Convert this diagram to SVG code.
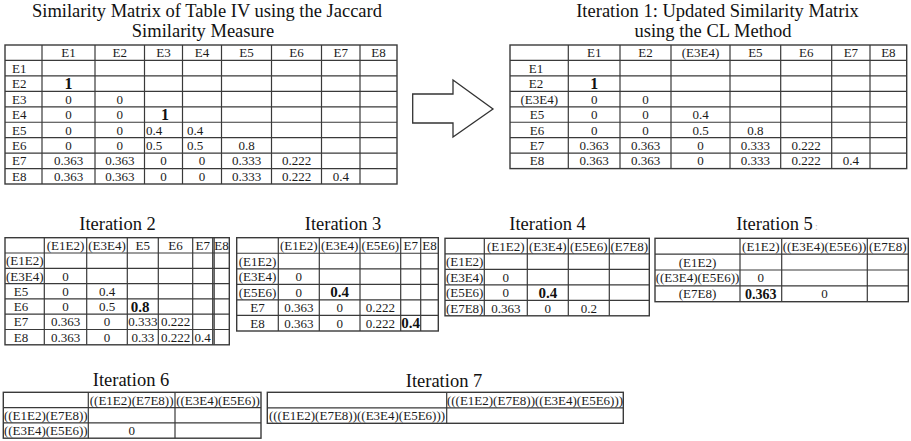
<svg xmlns="http://www.w3.org/2000/svg" width="911" height="441" viewBox="0 0 911 441">
  <rect width="911" height="441" fill="#fff"/>

  <!-- Jaccard similarity matrix -->
  <g id="matrix-jaccard">
    <text x="207" y="17" font-family="Liberation Serif" font-size="18.5" text-anchor="middle" fill="#111">Similarity Matrix of Table IV using the Jaccard</text>
    <text x="203" y="36.5" font-family="Liberation Serif" font-size="18.5" text-anchor="middle" fill="#111">Similarity Measure</text>
    <rect x="5" y="45" width="392" height="139" fill="none" stroke="#3a3a3a" stroke-width="1.4"/>
    <path fill="none" stroke="#3a3a3a" stroke-width="1.2" d="M42 45V184M95 45V184M144.5 45V184M182.5 45V184M221.5 45V184M271.5 45V184M321.5 45V184M360 45V184M5 60.45H397M5 75.9H397M5 91.35H397M5 106.8H397M5 122.25H397M5 137.7H397M5 153.15H397M5 168.6H397"/>
    <text x="68.5" y="57.2" font-family="Liberation Serif" font-size="13" text-anchor="middle" fill="#1a1a1a">E1</text>
    <text x="119.75" y="57.2" font-family="Liberation Serif" font-size="13" text-anchor="middle" fill="#1a1a1a">E2</text>
    <text x="163.5" y="57.2" font-family="Liberation Serif" font-size="13" text-anchor="middle" fill="#1a1a1a">E3</text>
    <text x="202" y="57.2" font-family="Liberation Serif" font-size="13" text-anchor="middle" fill="#1a1a1a">E4</text>
    <text x="246.5" y="57.2" font-family="Liberation Serif" font-size="13" text-anchor="middle" fill="#1a1a1a">E5</text>
    <text x="296.5" y="57.2" font-family="Liberation Serif" font-size="13" text-anchor="middle" fill="#1a1a1a">E6</text>
    <text x="340.75" y="57.2" font-family="Liberation Serif" font-size="13" text-anchor="middle" fill="#1a1a1a">E7</text>
    <text x="378.5" y="57.2" font-family="Liberation Serif" font-size="13" text-anchor="middle" fill="#1a1a1a">E8</text>
    <text x="12" y="72.7" font-family="Liberation Serif" font-size="13" fill="#1a1a1a">E1</text>
    <text x="12" y="88.1" font-family="Liberation Serif" font-size="13" fill="#1a1a1a">E2</text>
    <text x="12" y="103.6" font-family="Liberation Serif" font-size="13" fill="#1a1a1a">E3</text>
    <text x="12" y="119" font-family="Liberation Serif" font-size="13" fill="#1a1a1a">E4</text>
    <text x="12" y="134.5" font-family="Liberation Serif" font-size="13" fill="#1a1a1a">E5</text>
    <text x="12" y="149.9" font-family="Liberation Serif" font-size="13" fill="#1a1a1a">E6</text>
    <text x="12" y="165.4" font-family="Liberation Serif" font-size="13" fill="#1a1a1a">E7</text>
    <text x="12" y="180.8" font-family="Liberation Serif" font-size="13" fill="#1a1a1a">E8</text>
    <text x="68.5" y="88.8" font-family="Liberation Serif" font-size="16" font-weight="bold" text-anchor="middle" fill="#111">1</text>
    <text x="68.5" y="103.6" font-family="Liberation Serif" font-size="13" text-anchor="middle" fill="#1a1a1a">0</text>
    <text x="119.75" y="103.6" font-family="Liberation Serif" font-size="13" text-anchor="middle" fill="#1a1a1a">0</text>
    <text x="68.5" y="119" font-family="Liberation Serif" font-size="13" text-anchor="middle" fill="#1a1a1a">0</text>
    <text x="119.75" y="119" font-family="Liberation Serif" font-size="13" text-anchor="middle" fill="#1a1a1a">0</text>
    <text x="165" y="119.7" font-family="Liberation Serif" font-size="16" font-weight="bold" text-anchor="middle" fill="#111">1</text>
    <text x="68.5" y="134.5" font-family="Liberation Serif" font-size="13" text-anchor="middle" fill="#1a1a1a">0</text>
    <text x="119.75" y="134.5" font-family="Liberation Serif" font-size="13" text-anchor="middle" fill="#1a1a1a">0</text>
    <text x="154" y="134.5" font-family="Liberation Serif" font-size="13" text-anchor="middle" fill="#1a1a1a">0.4</text>
    <text x="195" y="134.5" font-family="Liberation Serif" font-size="13" text-anchor="middle" fill="#1a1a1a">0.4</text>
    <text x="68.5" y="149.9" font-family="Liberation Serif" font-size="13" text-anchor="middle" fill="#1a1a1a">0</text>
    <text x="119.75" y="149.9" font-family="Liberation Serif" font-size="13" text-anchor="middle" fill="#1a1a1a">0</text>
    <text x="154" y="149.9" font-family="Liberation Serif" font-size="13" text-anchor="middle" fill="#1a1a1a">0.5</text>
    <text x="195" y="149.9" font-family="Liberation Serif" font-size="13" text-anchor="middle" fill="#1a1a1a">0.5</text>
    <text x="246.5" y="149.9" font-family="Liberation Serif" font-size="13" text-anchor="middle" fill="#1a1a1a">0.8</text>
    <text x="68.5" y="165.4" font-family="Liberation Serif" font-size="13" text-anchor="middle" fill="#1a1a1a">0.363</text>
    <text x="119.75" y="165.4" font-family="Liberation Serif" font-size="13" text-anchor="middle" fill="#1a1a1a">0.363</text>
    <text x="163.5" y="165.4" font-family="Liberation Serif" font-size="13" text-anchor="middle" fill="#1a1a1a">0</text>
    <text x="202" y="165.4" font-family="Liberation Serif" font-size="13" text-anchor="middle" fill="#1a1a1a">0</text>
    <text x="246.5" y="165.4" font-family="Liberation Serif" font-size="13" text-anchor="middle" fill="#1a1a1a">0.333</text>
    <text x="296.5" y="165.4" font-family="Liberation Serif" font-size="13" text-anchor="middle" fill="#1a1a1a">0.222</text>
    <text x="68.5" y="180.8" font-family="Liberation Serif" font-size="13" text-anchor="middle" fill="#1a1a1a">0.363</text>
    <text x="119.75" y="180.8" font-family="Liberation Serif" font-size="13" text-anchor="middle" fill="#1a1a1a">0.363</text>
    <text x="163.5" y="180.8" font-family="Liberation Serif" font-size="13" text-anchor="middle" fill="#1a1a1a">0</text>
    <text x="202" y="180.8" font-family="Liberation Serif" font-size="13" text-anchor="middle" fill="#1a1a1a">0</text>
    <text x="246.5" y="180.8" font-family="Liberation Serif" font-size="13" text-anchor="middle" fill="#1a1a1a">0.333</text>
    <text x="296.5" y="180.8" font-family="Liberation Serif" font-size="13" text-anchor="middle" fill="#1a1a1a">0.222</text>
    <text x="340.75" y="180.8" font-family="Liberation Serif" font-size="13" text-anchor="middle" fill="#1a1a1a">0.4</text>
  </g>

  <!-- block arrow between the two top matrices -->
  <g id="connectors">
    <polygon points="412.7,94 453,94 453,80 493,109 453,137 453,123 412.7,123" fill="#fff" stroke="#333" stroke-width="1.3"/>
  </g>

  <!-- Iteration 1 -->
  <g id="iteration-1">
    <text x="717.5" y="17" font-family="Liberation Serif" font-size="18.5" text-anchor="middle" fill="#111">Iteration 1: Updated Similarity Matrix</text>
    <text x="713" y="36.5" font-family="Liberation Serif" font-size="18.5" text-anchor="middle" fill="#111">using the CL Method</text>
    <rect x="510" y="45" width="396.7" height="123.6" fill="none" stroke="#3a3a3a" stroke-width="1.4"/>
    <path fill="none" stroke="#3a3a3a" stroke-width="1.2" d="M568.3 45V168.6M620 45V168.6M671 45V168.6M730 45V168.6M780.7 45V168.6M831.7 45V168.6M870 45V168.6M510 60.45H906.7M510 75.9H906.7M510 91.35H906.7M510 106.8H906.7M510 122.25H906.7M510 137.7H906.7M510 153.15H906.7"/>
    <text x="594.2" y="57.2" font-family="Liberation Serif" font-size="13" text-anchor="middle" fill="#1a1a1a">E1</text>
    <text x="645.5" y="57.2" font-family="Liberation Serif" font-size="13" text-anchor="middle" fill="#1a1a1a">E2</text>
    <text x="700.5" y="57.2" font-family="Liberation Serif" font-size="13" text-anchor="middle" fill="#1a1a1a">(E3E4)</text>
    <text x="755.4" y="57.2" font-family="Liberation Serif" font-size="13" text-anchor="middle" fill="#1a1a1a">E5</text>
    <text x="806.2" y="57.2" font-family="Liberation Serif" font-size="13" text-anchor="middle" fill="#1a1a1a">E6</text>
    <text x="850.9" y="57.2" font-family="Liberation Serif" font-size="13" text-anchor="middle" fill="#1a1a1a">E7</text>
    <text x="888.4" y="57.2" font-family="Liberation Serif" font-size="13" text-anchor="middle" fill="#1a1a1a">E8</text>
    <text x="536" y="72.7" font-family="Liberation Serif" font-size="13" text-anchor="middle" fill="#1a1a1a">E1</text>
    <text x="536" y="88.1" font-family="Liberation Serif" font-size="13" text-anchor="middle" fill="#1a1a1a">E2</text>
    <text x="594.2" y="88.8" font-family="Liberation Serif" font-size="16" font-weight="bold" text-anchor="middle" fill="#111">1</text>
    <text x="539.2" y="103.6" font-family="Liberation Serif" font-size="13" text-anchor="middle" fill="#1a1a1a">(E3E4)</text>
    <text x="594.2" y="103.6" font-family="Liberation Serif" font-size="13" text-anchor="middle" fill="#1a1a1a">0</text>
    <text x="645.5" y="103.6" font-family="Liberation Serif" font-size="13" text-anchor="middle" fill="#1a1a1a">0</text>
    <text x="537" y="119" font-family="Liberation Serif" font-size="13" text-anchor="middle" fill="#1a1a1a">E5</text>
    <text x="594.2" y="119" font-family="Liberation Serif" font-size="13" text-anchor="middle" fill="#1a1a1a">0</text>
    <text x="645.5" y="119" font-family="Liberation Serif" font-size="13" text-anchor="middle" fill="#1a1a1a">0</text>
    <text x="700.5" y="119" font-family="Liberation Serif" font-size="13" text-anchor="middle" fill="#1a1a1a">0.4</text>
    <text x="537" y="134.5" font-family="Liberation Serif" font-size="13" text-anchor="middle" fill="#1a1a1a">E6</text>
    <text x="594.2" y="134.5" font-family="Liberation Serif" font-size="13" text-anchor="middle" fill="#1a1a1a">0</text>
    <text x="645.5" y="134.5" font-family="Liberation Serif" font-size="13" text-anchor="middle" fill="#1a1a1a">0</text>
    <text x="700.5" y="134.5" font-family="Liberation Serif" font-size="13" text-anchor="middle" fill="#1a1a1a">0.5</text>
    <text x="755.4" y="134.5" font-family="Liberation Serif" font-size="13" text-anchor="middle" fill="#1a1a1a">0.8</text>
    <text x="537" y="149.9" font-family="Liberation Serif" font-size="13" text-anchor="middle" fill="#1a1a1a">E7</text>
    <text x="594.2" y="149.9" font-family="Liberation Serif" font-size="13" text-anchor="middle" fill="#1a1a1a">0.363</text>
    <text x="645.5" y="149.9" font-family="Liberation Serif" font-size="13" text-anchor="middle" fill="#1a1a1a">0.363</text>
    <text x="700.5" y="149.9" font-family="Liberation Serif" font-size="13" text-anchor="middle" fill="#1a1a1a">0</text>
    <text x="755.4" y="149.9" font-family="Liberation Serif" font-size="13" text-anchor="middle" fill="#1a1a1a">0.333</text>
    <text x="806.2" y="149.9" font-family="Liberation Serif" font-size="13" text-anchor="middle" fill="#1a1a1a">0.222</text>
    <text x="537" y="165.4" font-family="Liberation Serif" font-size="13" text-anchor="middle" fill="#1a1a1a">E8</text>
    <text x="594.2" y="165.4" font-family="Liberation Serif" font-size="13" text-anchor="middle" fill="#1a1a1a">0.363</text>
    <text x="645.5" y="165.4" font-family="Liberation Serif" font-size="13" text-anchor="middle" fill="#1a1a1a">0.363</text>
    <text x="700.5" y="165.4" font-family="Liberation Serif" font-size="13" text-anchor="middle" fill="#1a1a1a">0</text>
    <text x="755.4" y="165.4" font-family="Liberation Serif" font-size="13" text-anchor="middle" fill="#1a1a1a">0.333</text>
    <text x="806.2" y="165.4" font-family="Liberation Serif" font-size="13" text-anchor="middle" fill="#1a1a1a">0.222</text>
    <text x="850.9" y="165.4" font-family="Liberation Serif" font-size="13" text-anchor="middle" fill="#1a1a1a">0.4</text>
  </g>

  <!-- Iteration 2 -->
  <g id="iteration-2">
    <text x="117.5" y="230" font-family="Liberation Serif" font-size="18.5" text-anchor="middle" fill="#111">Iteration 2</text>
    <rect x="5" y="237.7" width="224.3" height="107.1" fill="none" stroke="#3a3a3a" stroke-width="1.4"/>
    <path fill="none" stroke="#3a3a3a" stroke-width="1.2" d="M44.3 237.7V344.8M86.7 237.7V344.8M127.3 237.7V344.8M158.3 237.7V344.8M192.7 237.7V344.8M212.7 237.7V344.8M214.2 237.7V344.8M5 253H229.3M5 268.3H229.3M5 283.6H229.3M5 298.9H229.3M5 314.2H229.3M5 329.5H229.3"/>
    <text x="65.5" y="249.9" font-family="Liberation Serif" font-size="13" text-anchor="middle" fill="#1a1a1a">(E1E2)</text>
    <text x="107" y="249.9" font-family="Liberation Serif" font-size="13" text-anchor="middle" fill="#1a1a1a">(E3E4)</text>
    <text x="142.8" y="249.9" font-family="Liberation Serif" font-size="13" text-anchor="middle" fill="#1a1a1a">E5</text>
    <text x="175.5" y="249.9" font-family="Liberation Serif" font-size="13" text-anchor="middle" fill="#1a1a1a">E6</text>
    <text x="202.7" y="249.9" font-family="Liberation Serif" font-size="13" text-anchor="middle" fill="#1a1a1a">E7</text>
    <text x="221.5" y="249.9" font-family="Liberation Serif" font-size="13" text-anchor="middle" fill="#1a1a1a">E8</text>
    <text x="24.7" y="265.2" font-family="Liberation Serif" font-size="13" text-anchor="middle" fill="#1a1a1a">(E1E2)</text>
    <text x="24.7" y="280.5" font-family="Liberation Serif" font-size="13" text-anchor="middle" fill="#1a1a1a">(E3E4)</text>
    <text x="65.5" y="280.5" font-family="Liberation Serif" font-size="13" text-anchor="middle" fill="#1a1a1a">0</text>
    <text x="21" y="295.8" font-family="Liberation Serif" font-size="13" text-anchor="middle" fill="#1a1a1a">E5</text>
    <text x="65.5" y="295.8" font-family="Liberation Serif" font-size="13" text-anchor="middle" fill="#1a1a1a">0</text>
    <text x="107" y="295.8" font-family="Liberation Serif" font-size="13" text-anchor="middle" fill="#1a1a1a">0.4</text>
    <text x="21" y="311.1" font-family="Liberation Serif" font-size="13" text-anchor="middle" fill="#1a1a1a">E6</text>
    <text x="65.5" y="311.1" font-family="Liberation Serif" font-size="13" text-anchor="middle" fill="#1a1a1a">0</text>
    <text x="107" y="311.1" font-family="Liberation Serif" font-size="13" text-anchor="middle" fill="#1a1a1a">0.5</text>
    <text x="140" y="311.6" font-family="Liberation Serif" font-size="15" font-weight="bold" text-anchor="middle" fill="#111">0.8</text>
    <text x="21" y="326.4" font-family="Liberation Serif" font-size="13" text-anchor="middle" fill="#1a1a1a">E7</text>
    <text x="65.5" y="326.4" font-family="Liberation Serif" font-size="13" text-anchor="middle" fill="#1a1a1a">0.363</text>
    <text x="107" y="326.4" font-family="Liberation Serif" font-size="13" text-anchor="middle" fill="#1a1a1a">0</text>
    <text x="142.8" y="326.4" font-family="Liberation Serif" font-size="13" text-anchor="middle" fill="#1a1a1a">0.333</text>
    <text x="175.5" y="326.4" font-family="Liberation Serif" font-size="13" text-anchor="middle" fill="#1a1a1a">0.222</text>
    <text x="21" y="341.7" font-family="Liberation Serif" font-size="13" text-anchor="middle" fill="#1a1a1a">E8</text>
    <text x="65.5" y="341.7" font-family="Liberation Serif" font-size="13" text-anchor="middle" fill="#1a1a1a">0.363</text>
    <text x="107" y="341.7" font-family="Liberation Serif" font-size="13" text-anchor="middle" fill="#1a1a1a">0</text>
    <text x="142.8" y="341.7" font-family="Liberation Serif" font-size="13" text-anchor="middle" fill="#1a1a1a">0.33</text>
    <text x="175.5" y="341.7" font-family="Liberation Serif" font-size="13" text-anchor="middle" fill="#1a1a1a">0.222</text>
    <text x="202.7" y="341.7" font-family="Liberation Serif" font-size="13" text-anchor="middle" fill="#1a1a1a">0.4</text>
  </g>

  <!-- Iteration 3 -->
  <g id="iteration-3">
    <text x="343" y="230" font-family="Liberation Serif" font-size="18.5" text-anchor="middle" fill="#111">Iteration 3</text>
    <rect x="236.7" y="237.7" width="201.6" height="93.3" fill="none" stroke="#3a3a3a" stroke-width="1.4"/>
    <path fill="none" stroke="#3a3a3a" stroke-width="1.2" d="M278.3 237.7V331M319.3 237.7V331M360 237.7V331M400.7 237.7V331M420.7 237.7V331M236.7 253.25H438.3M236.7 268.8H438.3M236.7 284.35H438.3M236.7 299.9H438.3M236.7 315.45H438.3"/>
    <text x="298.8" y="250" font-family="Liberation Serif" font-size="13" text-anchor="middle" fill="#1a1a1a">(E1E2)</text>
    <text x="339.65" y="250" font-family="Liberation Serif" font-size="13" text-anchor="middle" fill="#1a1a1a">(E3E4)</text>
    <text x="380.35" y="250" font-family="Liberation Serif" font-size="13" text-anchor="middle" fill="#1a1a1a">(E5E6)</text>
    <text x="410.7" y="250" font-family="Liberation Serif" font-size="13" text-anchor="middle" fill="#1a1a1a">E7</text>
    <text x="429.5" y="250" font-family="Liberation Serif" font-size="13" text-anchor="middle" fill="#1a1a1a">E8</text>
    <text x="257.5" y="265.5" font-family="Liberation Serif" font-size="13" text-anchor="middle" fill="#1a1a1a">(E1E2)</text>
    <text x="257.5" y="281" font-family="Liberation Serif" font-size="13" text-anchor="middle" fill="#1a1a1a">(E3E4)</text>
    <text x="298.8" y="281" font-family="Liberation Serif" font-size="13" text-anchor="middle" fill="#1a1a1a">0</text>
    <text x="257.5" y="296.6" font-family="Liberation Serif" font-size="13" text-anchor="middle" fill="#1a1a1a">(E5E6)</text>
    <text x="298.8" y="296.6" font-family="Liberation Serif" font-size="13" text-anchor="middle" fill="#1a1a1a">0</text>
    <text x="339.65" y="297.1" font-family="Liberation Serif" font-size="15" font-weight="bold" text-anchor="middle" fill="#111">0.4</text>
    <text x="257.5" y="312.1" font-family="Liberation Serif" font-size="13" text-anchor="middle" fill="#1a1a1a">E7</text>
    <text x="298.8" y="312.1" font-family="Liberation Serif" font-size="13" text-anchor="middle" fill="#1a1a1a">0.363</text>
    <text x="339.65" y="312.1" font-family="Liberation Serif" font-size="13" text-anchor="middle" fill="#1a1a1a">0</text>
    <text x="380.35" y="312.1" font-family="Liberation Serif" font-size="13" text-anchor="middle" fill="#1a1a1a">0.222</text>
    <text x="257.5" y="327.7" font-family="Liberation Serif" font-size="13" text-anchor="middle" fill="#1a1a1a">E8</text>
    <text x="298.8" y="327.7" font-family="Liberation Serif" font-size="13" text-anchor="middle" fill="#1a1a1a">0.363</text>
    <text x="339.65" y="327.7" font-family="Liberation Serif" font-size="13" text-anchor="middle" fill="#1a1a1a">0</text>
    <text x="380.35" y="327.7" font-family="Liberation Serif" font-size="13" text-anchor="middle" fill="#1a1a1a">0.222</text>
    <text x="410.7" y="328.2" font-family="Liberation Serif" font-size="15" font-weight="bold" text-anchor="middle" fill="#111">0.4</text>
  </g>

  <!-- Iteration 4 -->
  <g id="iteration-4">
    <text x="547.5" y="230" font-family="Liberation Serif" font-size="18.5" text-anchor="middle" fill="#111">Iteration 4</text>
    <rect x="445" y="238.3" width="204.3" height="77.5" fill="none" stroke="#3a3a3a" stroke-width="1.4"/>
    <path fill="none" stroke="#3a3a3a" stroke-width="1.2" d="M484.3 238.3V315.8M527.3 238.3V315.8M568.3 238.3V315.8M609.3 238.3V315.8M445 253.8H649.3M445 269.3H649.3M445 284.8H649.3M445 300.3H649.3"/>
    <text x="505.8" y="250.5" font-family="Liberation Serif" font-size="13" text-anchor="middle" fill="#1a1a1a">(E1E2)</text>
    <text x="547.8" y="250.5" font-family="Liberation Serif" font-size="13" text-anchor="middle" fill="#1a1a1a">(E3E4)</text>
    <text x="588.8" y="250.5" font-family="Liberation Serif" font-size="13" text-anchor="middle" fill="#1a1a1a">(E5E6)</text>
    <text x="629.3" y="250.5" font-family="Liberation Serif" font-size="13" text-anchor="middle" fill="#1a1a1a">(E7E8)</text>
    <text x="464.65" y="266" font-family="Liberation Serif" font-size="13" text-anchor="middle" fill="#1a1a1a">(E1E2)</text>
    <text x="464.65" y="281.5" font-family="Liberation Serif" font-size="13" text-anchor="middle" fill="#1a1a1a">(E3E4)</text>
    <text x="505.8" y="281.5" font-family="Liberation Serif" font-size="13" text-anchor="middle" fill="#1a1a1a">0</text>
    <text x="464.65" y="297" font-family="Liberation Serif" font-size="13" text-anchor="middle" fill="#1a1a1a">(E5E6)</text>
    <text x="505.8" y="297" font-family="Liberation Serif" font-size="13" text-anchor="middle" fill="#1a1a1a">0</text>
    <text x="547.8" y="297.5" font-family="Liberation Serif" font-size="15" font-weight="bold" text-anchor="middle" fill="#111">0.4</text>
    <text x="464.65" y="312.5" font-family="Liberation Serif" font-size="13" text-anchor="middle" fill="#1a1a1a">(E7E8)</text>
    <text x="505.8" y="312.5" font-family="Liberation Serif" font-size="13" text-anchor="middle" fill="#1a1a1a">0.363</text>
    <text x="547.8" y="312.5" font-family="Liberation Serif" font-size="13" text-anchor="middle" fill="#1a1a1a">0</text>
    <text x="588.8" y="312.5" font-family="Liberation Serif" font-size="13" text-anchor="middle" fill="#1a1a1a">0.2</text>
  </g>

  <!-- Iteration 5 -->
  <g id="iteration-5">
    <text x="774.5" y="230" font-family="Liberation Serif" font-size="18.5" text-anchor="middle" fill="#111">Iteration 5</text>
    <text x="815" y="230" font-family="Liberation Serif" font-size="10" fill="#bbb">:</text>
    <rect x="655" y="238.3" width="253.3" height="63.4" fill="none" stroke="#3a3a3a" stroke-width="1.4"/>
    <path fill="none" stroke="#3a3a3a" stroke-width="1.2" d="M740 238.3V301.7M781.7 238.3V301.7M867.3 238.3V301.7M655 254.15H908.3M655 270H908.3M655 285.85H908.3"/>
    <text x="760.85" y="250.7" font-family="Liberation Serif" font-size="13" text-anchor="middle" fill="#1a1a1a">(E1E2)</text>
    <text x="824.5" y="250.7" font-family="Liberation Serif" font-size="13" text-anchor="middle" fill="#1a1a1a">((E3E4)(E5E6))</text>
    <text x="887.8" y="250.7" font-family="Liberation Serif" font-size="13" text-anchor="middle" fill="#1a1a1a">(E7E8)</text>
    <text x="697.5" y="266.6" font-family="Liberation Serif" font-size="13" text-anchor="middle" fill="#1a1a1a">(E1E2)</text>
    <text x="697.5" y="282.4" font-family="Liberation Serif" font-size="13" text-anchor="middle" fill="#1a1a1a">((E3E4)(E5E6))</text>
    <text x="760.85" y="282.4" font-family="Liberation Serif" font-size="13" text-anchor="middle" fill="#1a1a1a">0</text>
    <text x="697.5" y="298.3" font-family="Liberation Serif" font-size="13" text-anchor="middle" fill="#1a1a1a">(E7E8)</text>
    <text x="760.85" y="298.6" font-family="Liberation Serif" font-size="14" font-weight="bold" text-anchor="middle" fill="#111">0.363</text>
    <text x="824.5" y="298.3" font-family="Liberation Serif" font-size="13" text-anchor="middle" fill="#1a1a1a">0</text>
  </g>

  <!-- Iteration 6 -->
  <g id="iteration-6">
    <text x="131" y="385.7" font-family="Liberation Serif" font-size="18.5" text-anchor="middle" fill="#111">Iteration 6</text>
    <rect x="3.3" y="392.3" width="257.7" height="45.9" fill="none" stroke="#3a3a3a" stroke-width="1.4"/>
    <path fill="none" stroke="#3a3a3a" stroke-width="1.2" d="M88.3 392.3V438.2M175 392.3V438.2M3.3 407.6H261M3.3 422.9H261"/>
    <text x="131.65" y="404.5" font-family="Liberation Serif" font-size="13" text-anchor="middle" fill="#1a1a1a">((E1E2)(E7E8))</text>
    <text x="218" y="404.5" font-family="Liberation Serif" font-size="13" text-anchor="middle" fill="#1a1a1a">((E3E4)(E5E6))</text>
    <text x="45.8" y="419.8" font-family="Liberation Serif" font-size="13" text-anchor="middle" fill="#1a1a1a">((E1E2)(E7E8))</text>
    <text x="45.8" y="435.1" font-family="Liberation Serif" font-size="13" text-anchor="middle" fill="#1a1a1a">((E3E4)(E5E6))</text>
    <text x="131.65" y="435.1" font-family="Liberation Serif" font-size="13" text-anchor="middle" fill="#1a1a1a">0</text>
  </g>

  <!-- Iteration 7 -->
  <g id="iteration-7">
    <text x="444" y="386.5" font-family="Liberation Serif" font-size="18.5" text-anchor="middle" fill="#111">Iteration 7</text>
    <rect x="267.3" y="392.3" width="356" height="31" fill="none" stroke="#3a3a3a" stroke-width="1.4"/>
    <path fill="none" stroke="#3a3a3a" stroke-width="1.2" d="M446.7 392.3V423.3M267.3 407.8H623.3"/>
    <text x="535" y="404.6" font-family="Liberation Serif" font-size="13" text-anchor="middle" fill="#1a1a1a">(((E1E2)(E7E8))((E3E4)(E5E6)))</text>
    <text x="357" y="420.1" font-family="Liberation Serif" font-size="13" text-anchor="middle" fill="#1a1a1a">(((E1E2)(E7E8))((E3E4)(E5E6)))</text>
  </g>
</svg>
